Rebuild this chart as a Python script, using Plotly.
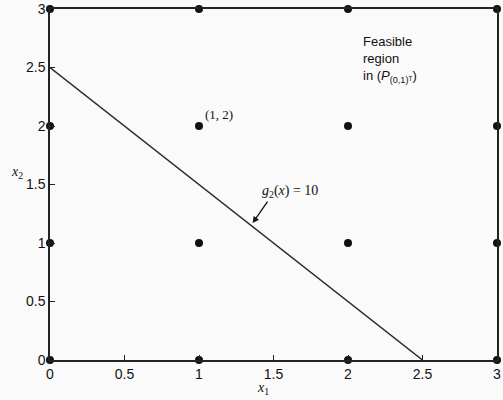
import plotly.graph_objects as go

# Integer lattice points
pts_x1 = [0, 1, 2, 3, 0, 1, 2, 3, 0, 1, 2, 3, 0, 1, 2, 3]
pts_x2 = [0, 0, 0, 0, 1, 1, 1, 1, 2, 2, 2, 2, 3, 3, 3, 3]

# Constraint line g2(x) = 10  (x1 + x2 = 2.5)
line_x1 = [0, 2.5]
line_x2 = [2.5, 0]

tick_vals = [0, 0.5, 1, 1.5, 2, 2.5, 3]
tick_text = ["0", "0.5", "1", "1.5", "2", "2.5", "3"]

highlight_pt = (1, 2)

fig = go.Figure()
fig.add_trace(go.Scatter(x=line_x1, y=line_x2, mode="lines",
                         line=dict(color="#2a2a2a", width=1.5),
                         hoverinfo="skip", showlegend=False, cliponaxis=False))
fig.add_trace(go.Scatter(x=pts_x1, y=pts_x2, mode="markers",
                         marker=dict(color="#111", size=8),
                         showlegend=False, cliponaxis=False))

serif = "Liberation Serif"
sans = "Liberation Sans"

fig.add_annotation(x=highlight_pt[0] + 0.03, y=highlight_pt[1] + 0.02, xref="x", yref="y",
                   text="(1, 2)", showarrow=False, xanchor="left", yanchor="bottom",
                   font=dict(family=serif, size=13, color="#111"))
fig.add_annotation(x=1.36, y=1.17, xref="x", yref="y", ax=1.48, ay=1.39,
                   axref="x", ayref="y", text=" ", showarrow=True,
                   arrowhead=2, arrowsize=1, arrowwidth=1.3, arrowcolor="#111")
fig.add_annotation(x=1.41, y=1.44, xref="x", yref="y",
                   text="<i>g</i><sub>2</sub>(<i>x</i>) = 10", showarrow=False,
                   xanchor="left", yanchor="middle",
                   font=dict(family=serif, size=14, color="#111"))
fig.add_annotation(x=2.09, y=2.80, xref="x", yref="y",
                   text="Feasible<br>region<br>in (<i>P</i><sub>(0,1)ᵀ</sub>)",
                   showarrow=False, xanchor="left", yanchor="top", align="left",
                   font=dict(family=sans, size=13, color="#111"))
# axis titles as annotations in paper coordinates
fig.add_annotation(x=(263 - 50) / 447, y=-(388 - 360) / 351, xref="paper", yref="paper",
                   text="<i>x</i><sub>1</sub>", showarrow=False,
                   xanchor="center", yanchor="middle",
                   font=dict(family=serif, size=14, color="#111"))
fig.add_annotation(x=-(50 - 17) / 447, y=(360 - 172) / 351, xref="paper", yref="paper",
                   text="<i>x</i><sub>2</sub>", showarrow=False,
                   xanchor="center", yanchor="middle",
                   font=dict(family=serif, size=14, color="#111"))

axis_common = dict(range=[0, 3], tickvals=tick_vals, ticktext=tick_text,
                   showline=True, mirror=True, linecolor="#222", linewidth=1.5,
                   ticks="inside", ticklen=5, tickcolor="#222", showgrid=False,
                   zeroline=False, automargin=False,
                   tickfont=dict(family=sans, size=14, color="#111"))
fig.update_xaxes(**axis_common)
fig.update_yaxes(**axis_common)

fig.update_layout(width=503, height=400,
                  margin=dict(l=50, r=6, t=9, b=40),
                  paper_bgcolor="#fafafa", plot_bgcolor="#fafafa")
fig.write_html("out.html", config={"displayModeBar": False},
               post_script="document.body.style.margin='0';document.body.style.overflow='hidden';")
